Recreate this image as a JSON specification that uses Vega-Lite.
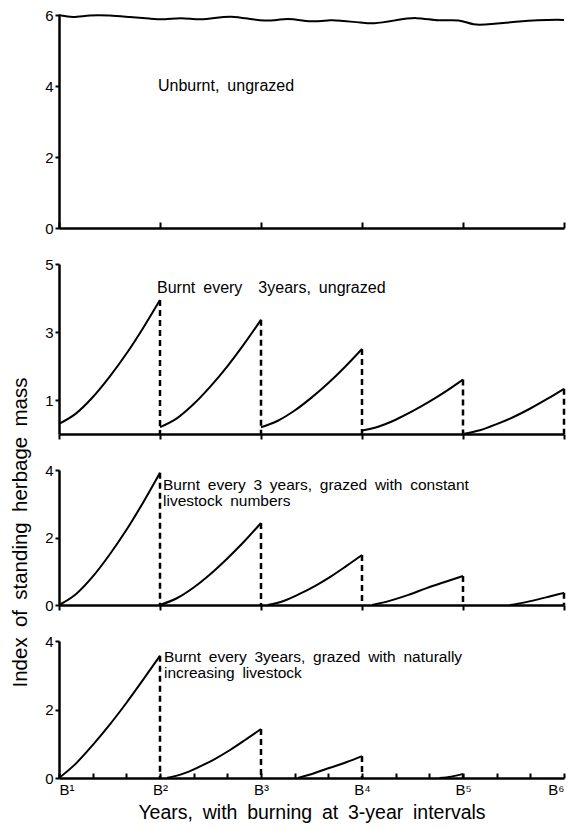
{
  "$schema": "https://vega.github.io/schema/vega-lite/v6.json",
  "padding": {"left": 10, "top": 8, "right": 2, "bottom": 2},
  "bounds": "flush",
  "spacing": 36,
  "config": {
    "font": "Liberation Sans",
    "view": {"stroke": null},
    "axis": {
      "domainColor": "black", "domainWidth": 2.5, "tickColor": "black", "tickWidth": 2,
      "labelColor": "black", "labelFontSize": 15, "grid": false, "titleColor": "black",
      "titleFontWeight": "normal", "titleFontSize": 19.5
    },
    "text": {"fontSize": 16, "align": "left", "baseline": "alphabetic", "color": "black"},
    "line": {"color": "black", "strokeWidth": 2, "interpolate": "monotone"},
    "rule": {"color": "black", "strokeWidth": 2.5, "strokeDash": [6, 4]}
  },
  "datasets": {
    "p1": [
      {"x": 0, "y": 6.0}, {"x": 0.4, "y": 5.92}, {"x": 0.9, "y": 6.0}, {"x": 1.5, "y": 5.99},
      {"x": 2.1, "y": 5.94}, {"x": 2.7, "y": 5.9}, {"x": 3.15, "y": 5.86}, {"x": 3.6, "y": 5.94},
      {"x": 4.2, "y": 5.85}, {"x": 4.7, "y": 5.93}, {"x": 5.1, "y": 5.97}, {"x": 5.6, "y": 5.9},
      {"x": 6.1, "y": 5.82}, {"x": 6.6, "y": 5.88}, {"x": 6.9, "y": 5.9}, {"x": 7.5, "y": 5.79},
      {"x": 8.1, "y": 5.87}, {"x": 8.4, "y": 5.83}, {"x": 9.0, "y": 5.79}, {"x": 9.3, "y": 5.74},
      {"x": 10.0, "y": 5.85}, {"x": 10.6, "y": 5.95}, {"x": 11.3, "y": 5.82}, {"x": 11.9, "y": 5.89},
      {"x": 12.3, "y": 5.7}, {"x": 12.8, "y": 5.74}, {"x": 13.6, "y": 5.81}, {"x": 14.2, "y": 5.86},
      {"x": 14.9, "y": 5.87}, {"x": 15, "y": 5.86}
    ],
    "p2": [
      {"s": 1, "x": 0, "y": 0.3}, {"s": 1, "x": 0.5, "y": 0.6}, {"s": 1, "x": 1, "y": 1.08}, {"s": 1, "x": 1.5, "y": 1.68}, {"s": 1, "x": 2, "y": 2.36}, {"s": 1, "x": 2.5, "y": 3.12}, {"s": 1, "x": 3, "y": 3.94},
      {"s": 2, "x": 3, "y": 0.2}, {"s": 2, "x": 3.5, "y": 0.46}, {"s": 2, "x": 4, "y": 0.88}, {"s": 2, "x": 4.5, "y": 1.4}, {"s": 2, "x": 5, "y": 1.99}, {"s": 2, "x": 5.5, "y": 2.65}, {"s": 2, "x": 6, "y": 3.36},
      {"s": 3, "x": 6, "y": 0.2}, {"s": 3, "x": 6.5, "y": 0.39}, {"s": 3, "x": 7, "y": 0.69}, {"s": 3, "x": 7.5, "y": 1.07}, {"s": 3, "x": 8, "y": 1.5}, {"s": 3, "x": 8.5, "y": 1.98}, {"s": 3, "x": 9, "y": 2.5},
      {"s": 4, "x": 9, "y": 0.1}, {"s": 4, "x": 9.5, "y": 0.22}, {"s": 4, "x": 10, "y": 0.42}, {"s": 4, "x": 10.5, "y": 0.67}, {"s": 4, "x": 11, "y": 0.95}, {"s": 4, "x": 11.5, "y": 1.26}, {"s": 4, "x": 12, "y": 1.6},
      {"s": 5, "x": 12, "y": 0}, {"s": 5, "x": 12.5, "y": 0.11}, {"s": 5, "x": 13, "y": 0.29}, {"s": 5, "x": 13.5, "y": 0.5}, {"s": 5, "x": 14, "y": 0.75}, {"s": 5, "x": 14.5, "y": 1.03}, {"s": 5, "x": 15, "y": 1.33}
    ],
    "d2": [{"x": 3, "y": 3.94}, {"x": 6, "y": 3.36}, {"x": 9, "y": 2.5}, {"x": 12, "y": 1.6}, {"x": 15, "y": 1.33}],
    "p3": [
      {"s": 1, "x": 0, "y": 0}, {"s": 1, "x": 0.5, "y": 0.32}, {"s": 1, "x": 1, "y": 0.84}, {"s": 1, "x": 1.5, "y": 1.49}, {"s": 1, "x": 2, "y": 2.22}, {"s": 1, "x": 2.5, "y": 3.04}, {"s": 1, "x": 3, "y": 3.92},
      {"s": 2, "x": 3, "y": 0}, {"s": 2, "x": 3.5, "y": 0.2}, {"s": 2, "x": 4, "y": 0.52}, {"s": 2, "x": 4.5, "y": 0.92}, {"s": 2, "x": 5, "y": 1.38}, {"s": 2, "x": 5.5, "y": 1.88}, {"s": 2, "x": 6, "y": 2.43},
      {"s": 3, "x": 6.2, "y": 0}, {"s": 3, "x": 6.67, "y": 0.12}, {"s": 3, "x": 7.13, "y": 0.32}, {"s": 3, "x": 7.6, "y": 0.56}, {"s": 3, "x": 8.07, "y": 0.84}, {"s": 3, "x": 8.53, "y": 1.15}, {"s": 3, "x": 9, "y": 1.48},
      {"s": 4, "x": 9.3, "y": 0}, {"s": 4, "x": 9.84, "y": 0.13}, {"s": 4, "x": 10.38, "y": 0.3}, {"s": 4, "x": 10.92, "y": 0.5}, {"s": 4, "x": 11.46, "y": 0.68}, {"s": 4, "x": 12, "y": 0.86},
      {"s": 5, "x": 13.4, "y": 0}, {"s": 5, "x": 13.8, "y": 0.07}, {"s": 5, "x": 14.2, "y": 0.16}, {"s": 5, "x": 14.6, "y": 0.26}, {"s": 5, "x": 15, "y": 0.36}
    ],
    "d3": [{"x": 3, "y": 3.92}, {"x": 6, "y": 2.43}, {"x": 9, "y": 1.48}, {"x": 12, "y": 0.86}, {"x": 15, "y": 0.36}],
    "p4": [
      {"s": 1, "x": 0, "y": 0}, {"s": 1, "x": 0.5, "y": 0.42}, {"s": 1, "x": 1, "y": 0.96}, {"s": 1, "x": 1.5, "y": 1.55}, {"s": 1, "x": 2, "y": 2.19}, {"s": 1, "x": 2.5, "y": 2.87}, {"s": 1, "x": 3, "y": 3.57},
      {"s": 2, "x": 3.2, "y": 0}, {"s": 2, "x": 3.67, "y": 0.12}, {"s": 2, "x": 4.13, "y": 0.31}, {"s": 2, "x": 4.6, "y": 0.54}, {"s": 2, "x": 5.07, "y": 0.81}, {"s": 2, "x": 5.53, "y": 1.11}, {"s": 2, "x": 6, "y": 1.43},
      {"s": 3, "x": 7.1, "y": 0}, {"s": 3, "x": 7.58, "y": 0.14}, {"s": 3, "x": 8.05, "y": 0.3}, {"s": 3, "x": 8.53, "y": 0.46}, {"s": 3, "x": 9, "y": 0.64},
      {"s": 4, "x": 11.3, "y": 0}, {"s": 4, "x": 11.65, "y": 0.04}, {"s": 4, "x": 12, "y": 0.12}
    ],
    "d4": [{"x": 3, "y": 3.57}, {"x": 6, "y": 1.43}, {"x": 9, "y": 0.64}, {"x": 12, "y": 0.12}],
    "labels": [
      {"panel": 1, "x": 3, "y": 3.86, "text": "Unburnt,\u2002ungrazed"},
      {"panel": 2, "x": 3, "y": 4.14, "text": "Burnt\u2002every\u2002\u20023years,\u2002ungrazed"},
      {"panel": 3, "x": 3, "y": 3.4, "text": "Burnt\u2002every\u20023\u2002years,\u2002grazed\u2002with\u2002constant"},
      {"panel": 3, "x": 3, "y": 2.92, "text": "livestock\u2002numbers"},
      {"panel": 4, "x": 3, "y": 3.38, "text": "Burnt\u2002every\u20023years,\u2002grazed\u2002with\u2002naturally"},
      {"panel": 4, "x": 3, "y": 2.91, "text": "increasing\u2002livestock"}
    ]
  },
  "vconcat": [
    {
      "width": 505, "height": 213,
      "encoding": {
        "x": {"field": "x", "type": "quantitative", "scale": {"domain": [0, 15], "nice": false},
              "axis": {"values": [0, 3, 6, 9, 12, 15], "labels": false, "tickSize": -6, "title": null}},
        "y": {"field": "y", "type": "quantitative", "scale": {"domain": [0, 6], "nice": false},
              "axis": {"values": [0, 2, 4, 6], "tickSize": 4, "labelPadding": 2, "title": null}}
      },
      "layer": [
        {"data": {"name": "p1"}, "mark": {"type": "line", "interpolate": "basis"}},
        {"data": {"name": "labels"}, "transform": [{"filter": "datum.panel == 1"}],
         "mark": {"type": "text", "dx": -2}, "encoding": {"text": {"field": "text"}}}
      ]
    },
    {
      "width": 505, "height": 170,
      "encoding": {
        "x": {"field": "x", "type": "quantitative", "scale": {"domain": [0, 15], "nice": false},
              "axis": {"values": [0, 3, 6, 9, 12, 15], "labels": false, "tickSize": 5, "title": null}},
        "y": {"field": "y", "type": "quantitative", "scale": {"domain": [0, 5], "nice": false},
              "axis": {"values": [1, 3, 5], "tickSize": 4, "labelPadding": 2, "title": null}}
      },
      "layer": [
        {"data": {"name": "p2"}, "mark": "line", "encoding": {"detail": {"field": "s"}}},
        {"data": {"name": "d2"}, "mark": "rule", "encoding": {"y2": {"datum": 0}}},
        {"data": {"name": "labels"}, "transform": [{"filter": "datum.panel == 2"}],
         "mark": {"type": "text", "dx": -3}, "encoding": {"text": {"field": "text"}}}
      ]
    },
    {
      "width": 505, "height": 135,
      "encoding": {
        "x": {"field": "x", "type": "quantitative", "scale": {"domain": [0, 15], "nice": false},
              "axis": {"values": [0, 3, 6, 9, 12, 15], "labels": false, "tickSize": 5, "title": null}},
        "y": {"field": "y", "type": "quantitative", "scale": {"domain": [0, 4], "nice": false},
              "axis": {"values": [0, 2, 4], "tickSize": 4, "labelPadding": 2,
                       "title": "Index\u2002of\u2002standing\u2002herbage\u2002mass", "titlePadding": 14,
                       "titleFontSize": 20.5, "titleY": 62}}
      },
      "layer": [
        {"data": {"name": "p3"}, "mark": "line", "encoding": {"detail": {"field": "s"}}},
        {"data": {"name": "d3"}, "mark": "rule", "encoding": {"y2": {"datum": 0}}},
        {"data": {"name": "labels"}, "transform": [{"filter": "datum.panel == 3"}],
         "mark": {"type": "text", "dx": 3, "fontSize": 15.5}, "encoding": {"text": {"field": "text"}}}
      ]
    },
    {
      "width": 505, "height": 137,
      "encoding": {
        "x": {"field": "x", "type": "quantitative", "scale": {"domain": [0, 15], "nice": false},
              "axis": {"values": [0, 1, 2, 3, 4, 5, 6, 7, 8, 9, 10, 11, 12, 13, 14, 15], "tickSize": -5,
                       "labelPadding": 9,
                       "labelExpr": "datum.value % 3 == 0 ? 'B' + ['¹','²','³','⁴','⁵','⁶'][datum.value / 3] : ''",
                       "title": "Years,\u2002with\u2002burning\u2002at\u20023-year\u2002intervals", "titlePadding": 6}},
        "y": {"field": "y", "type": "quantitative", "scale": {"domain": [0, 4], "nice": false},
              "axis": {"values": [0, 2, 4], "tickSize": 4, "labelPadding": 2, "title": null}}
      },
      "layer": [
        {"data": {"name": "p4"}, "mark": "line", "encoding": {"detail": {"field": "s"}}},
        {"data": {"name": "d4"}, "mark": "rule", "encoding": {"y2": {"datum": 0}}},
        {"data": {"name": "labels"}, "transform": [{"filter": "datum.panel == 4"}],
         "mark": {"type": "text", "dx": 4, "fontSize": 15.5}, "encoding": {"text": {"field": "text"}}}
      ]
    }
  ]
}
